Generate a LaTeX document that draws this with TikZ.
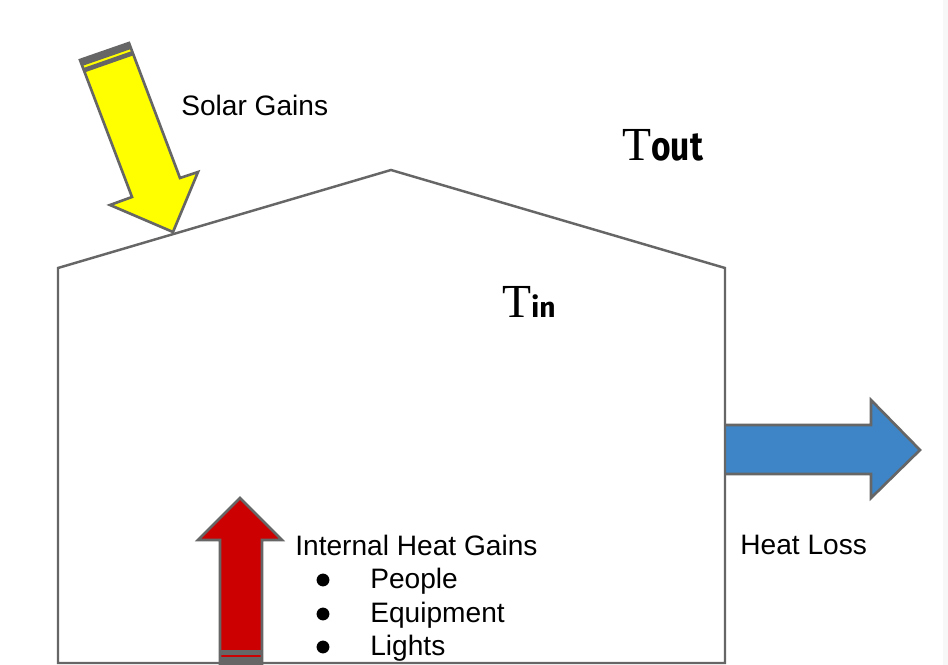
\documentclass[tikz,border=0pt]{standalone}
\usepackage{fontspec}
\setmainfont{Liberation Sans}
\newfontfamily\tserif{Liberation Serif}
\newfontfamily\tbold{Fira Sans}
\usetikzlibrary{calc}

\definecolor{edgegray}{HTML}{666666}
\definecolor{sunyellow}{HTML}{FFFF00}
\definecolor{heatred}{HTML}{CC0000}
\definecolor{lossblue}{HTML}{3D85C6}

\begin{document}
\begin{tikzpicture}[x=0.02cm, y=-0.02cm,
  wall/.style={draw=edgegray, line width=1.4pt, line join=miter},
  bigarrow/.style={draw=edgegray, line width=1.5pt, line join=miter},
  band/.style={draw=edgegray, line width=#1},
  label/.style={inner sep=0pt, anchor=base west, font=\fontsize{16}{19}\selectfont},
  dot/.style={circle, fill=black, inner sep=0pt, minimum size=7.3pt},
  temp/.style={inner sep=0pt, anchor=base west}]
  \useasboundingbox (0,0) rectangle (948,665);
  \fill[white] (0,0) rectangle (948,665);
  \fill[black!3] (943,0) rectangle (948,665);

  % heat loss arrow
  \filldraw[bigarrow, fill=lossblue] (725,425) -- (871,425) -- (871,400) -- (920,450)
    -- (871,498) -- (871,474) -- (725,474);

  % house outline
  \coordinate (base left) at (58,663);
  \coordinate (eave left) at (58,268);
  \coordinate (ridge) at (391,170);
  \coordinate (eave right) at (725,268);
  \coordinate (base right) at (725,663);
  \draw[wall] (base left) -- (eave left) -- (ridge) -- (eave right) -- (base right) -- cycle;

  % solar arrow
  \coordinate (sun tail l) at (80,60);
  \coordinate (sun tail r) at (129,43);
  \coordinate (sun neck l) at (132,197);
  \coordinate (sun neck r) at (180,178);
  \filldraw[bigarrow, fill=sunyellow] (sun tail l) -- (sun neck l) -- (110,205) -- (173,232)
    -- (198,172) -- (sun neck r) -- (sun tail r) -- cycle;
  \draw[band=3.6pt] ($(sun tail l)!0.022!(sun neck l)$) -- ($(sun tail r)!0.022!(sun neck r)$);
  \draw[band=2.6pt] ($(sun tail l)!0.075!(sun neck l)$) -- ($(sun tail r)!0.075!(sun neck r)$);

  % internal gains arrow
  \fill[heatred] (220,665) -- (220,540) -- (198,540) -- (240,498) -- (282,540) -- (262,540) -- (262,665) -- cycle;
  \fill[edgegray] (220,650) rectangle (262,655);
  \fill[edgegray] (220,657.5) rectangle (262,665);
  \draw[bigarrow] (220,665) -- (220,540) -- (198,540) -- (240,498) -- (282,540) -- (262,540) -- (262,665);

  % labels
  \node[label] (solar) at (181,116) {Solar Gains};
  \node[label] (internal) at (295,556) {Internal Heat Gains};
  \node[dot] (dot1) at (323,580) {};
  \node[dot] (dot2) at (323,614) {};
  \node[dot] (dot3) at (323,647) {};
  \node[label] (people) at (370,589) {People};
  \node[label] (equip) at (370,623) {Equipment};
  \node[label] (lights) at (370,656) {Lights};
  \node[label] (loss) at (740,555) {Heat Loss};

  \node[temp] (tout) at (622,161) {{\tserif\fontsize{27}{30}\selectfont T}{\tbold\bfseries\fontsize{23}{26}\selectfont\scalebox{0.83}[1]{out}}};
  \node[temp] (tin) at (502,318) {{\tserif\fontsize{27}{30}\selectfont T}{\tbold\bfseries\fontsize{16}{18}\selectfont in}};
\end{tikzpicture}
\end{document}
